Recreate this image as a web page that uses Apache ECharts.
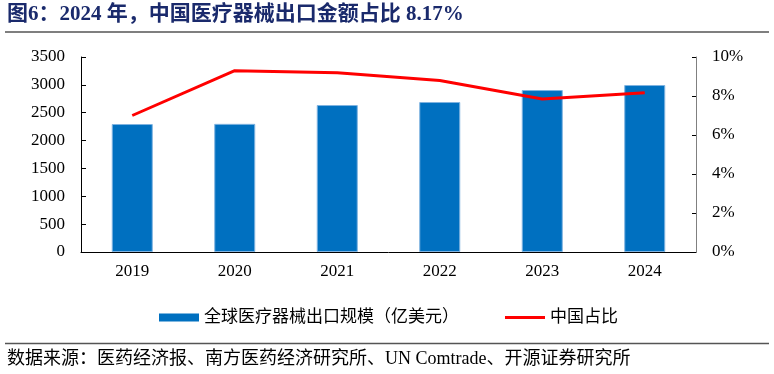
<!DOCTYPE html>
<html>
<head>
<meta charset="utf-8">
<script src="https://cdn.jsdelivr.net/npm/echarts@6/dist/echarts.min.js"></script>
<style>html,body{margin:0;padding:0;background:#fff;}#c{width:774px;height:374px;}</style>
</head>
<body>
<div id="c"></div>
<script>
var categories = ['2019', '2020', '2021', '2022', '2023', '2024'];
var exportScale = [2297, 2300, 2638, 2692, 2907, 2997];
var chinaShare = [7.0, 9.3, 9.19, 8.8, 7.85, 8.17];
var leftTicks = { min: 0, max: 3500, interval: 500 };
var rightTicks = { min: 0, max: 10, interval: 2 };

var FONT = '"Liberation Serif", "Noto Sans CJK SC", serif';
var chart = echarts.init(document.getElementById('c'), null, { renderer: 'canvas' });
chart.setOption({
  animation: false,
  backgroundColor: '#ffffff',
  textStyle: { fontFamily: FONT },
  grid: { left: 81, right: 78, top: 57, bottom: 122 },
  legend: {
    left: 154, top: 304,
    itemGap: 46,
    itemWidth: 40, itemHeight: 8,
    textStyle: { fontFamily: FONT, fontSize: 17, color: '#000' },
    data: [
      { name: '全球医疗器械出口规模（亿美元）', icon: 'rect', itemStyle: { borderWidth: 0, borderColor: '#0070C0' } },
      { name: '中国占比', icon: 'path://M0,0H40V3H0Z', itemStyle: { color: '#FF0000', borderWidth: 0 } }
    ]
  },
  xAxis: {
    type: 'category',
    data: categories,
    boundaryGap: true,
    axisLine: { lineStyle: { color: '#000', width: 1 } },
    axisTick: { inside: true, length: 4, lineStyle: { color: '#000' } },
    axisLabel: { fontFamily: FONT, fontSize: 17, color: '#000', margin: 11 }
  },
  yAxis: [
    {
      type: 'value', min: leftTicks.min, max: leftTicks.max, interval: leftTicks.interval,
      axisLine: { show: true, lineStyle: { color: '#000' } },
      axisTick: { show: true, inside: true, length: 5, lineStyle: { color: '#000' } },
      splitLine: { show: false },
      axisLabel: { fontFamily: FONT, fontSize: 17, color: '#000', margin: 16, formatter: function (v) { return String(v); } }
    },
    {
      type: 'value', min: rightTicks.min, max: rightTicks.max, interval: rightTicks.interval,
      position: 'right',
      axisLine: { show: true, lineStyle: { color: '#808080' } },
      axisTick: { show: true, inside: true, length: 4, lineStyle: { color: '#000' } },
      splitLine: { show: false },
      axisLabel: { fontFamily: FONT, fontSize: 17, color: '#000', margin: 16, formatter: '{value}%' }
    }
  ],
  series: [
    {
      name: '全球医疗器械出口规模（亿美元）',
      type: 'bar',
      data: exportScale,
      barWidth: '40%',
      itemStyle: { color: '#0070C0', borderColor: '#7fb3e0', borderWidth: 1 }
    },
    {
      name: '中国占比',
      type: 'line',
      yAxisIndex: 1,
      data: chinaShare,
      symbol: 'none',
      lineStyle: { color: '#FF0000', width: 3 },
      itemStyle: { color: '#FF0000' }
    }
  ],
  graphic: [
    {
      type: 'text', left: 7, top: 4,
      style: { text: '图6：2024 年，中国医疗器械出口金额占比 8.17%', fontFamily: FONT, fontSize: 21, fontWeight: 'bold', fill: '#1a2a6c' }
    },
    { type: 'line', shape: { x1: 5, y1: 32, x2: 769, y2: 32 }, style: { stroke: '#7f7f7f', lineWidth: 2 } },
    { type: 'line', shape: { x1: 5, y1: 343.5, x2: 769, y2: 343.5 }, style: { stroke: '#555', lineWidth: 1.5 } },
    {
      type: 'text', left: 7, top: 350,
      style: { text: '数据来源：医药经济报、南方医药经济研究所、UN Comtrade、开源证券研究所', fontFamily: FONT, fontSize: 18, fill: '#000' }
    }
  ]
});
</script>
</body>
</html>
